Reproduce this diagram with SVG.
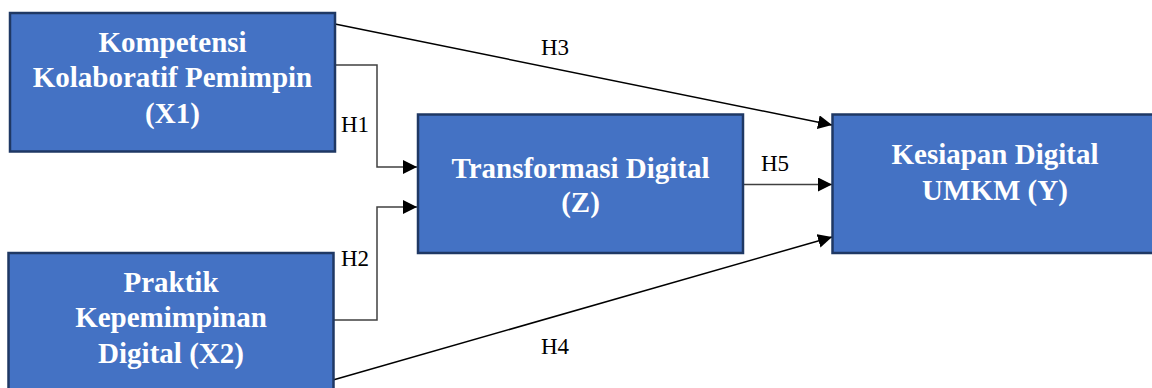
<svg xmlns="http://www.w3.org/2000/svg" width="1152" height="388" viewBox="0 0 1152 388">
<style>
.box{fill:#4472C4;stroke:#1F3864;stroke-width:2.5}
.t{font-family:"Liberation Serif","Times New Roman",serif;font-weight:bold;font-size:29px;fill:#FFFFFF;text-anchor:middle}
.lbl{font-family:"Liberation Serif","Times New Roman",serif;font-size:23px;fill:#000000}
.c{fill:none;stroke:#000000;stroke-width:1.5}
.cg{fill:none;stroke:#404040;stroke-width:1.5}
</style>
<defs>
<marker id="ah" viewBox="0 0 14 14" refX="14" refY="7" markerWidth="14" markerHeight="14" markerUnits="userSpaceOnUse" orient="auto">
<path d="M0,0 L14,7 L0,14 Z" fill="#000000"/>
</marker>
</defs>
<rect width="1152" height="388" fill="#FFFFFF"/>
<g id="connectors">
<polyline class="cg" points="335,65 377,65 377,167 417,167" marker-end="url(#ah)"/>
<polyline class="cg" points="333,320 377,320 377,207 417,207" marker-end="url(#ah)"/>
<line class="c" x1="335" y1="24" x2="832" y2="125" marker-end="url(#ah)"/>
<line class="c" x1="333" y1="380" x2="832" y2="237" marker-end="url(#ah)"/>
<line class="cg" x1="743" y1="184.5" x2="832" y2="184.5" marker-end="url(#ah)"/>
<text class="lbl" x="341" y="131.5">H1</text>
<text class="lbl" x="341" y="265.5">H2</text>
<text class="lbl" x="541" y="54.5">H3</text>
<text class="lbl" x="541" y="353.5">H4</text>
<text class="lbl" x="761" y="170.5">H5</text>
</g>
<g id="X1">
<rect class="box" x="10" y="13" width="325" height="138.5"/>
<text class="t" x="172.5" y="51.7">Kompetensi</text>
<text class="t" x="172.5" y="87.3">Kolaboratif Pemimpin</text>
<text class="t" x="172.5" y="123">(X1)</text>
</g>
<g id="Z">
<rect class="box" x="418" y="114.5" width="325" height="138.5"/>
<text class="t" x="580.5" y="178">Transformasi Digital</text>
<text class="t" x="580.5" y="212">(Z)</text>
</g>
<g id="Y">
<rect class="box" x="832.5" y="114.5" width="325" height="138.5"/>
<text class="t" x="995" y="164">Kesiapan Digital</text>
<text class="t" x="995" y="200">UMKM (Y)</text>
</g>
<g id="X2">
<rect class="box" x="8.5" y="253" width="325" height="140"/>
<text class="t" x="171" y="291.7">Praktik</text>
<text class="t" x="171" y="327.3">Kepemimpinan</text>
<text class="t" x="171" y="363.3">Digital (X2)</text>
</g>
</svg>
